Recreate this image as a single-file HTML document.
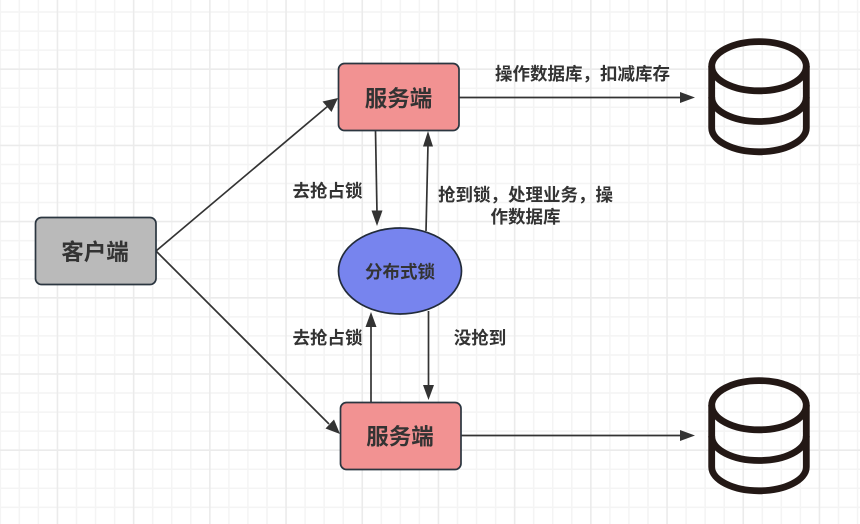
<!DOCTYPE html>
<html><head><meta charset="utf-8">
<style>
html,body{margin:0;padding:0;background:#fff;width:860px;height:524px;overflow:hidden}
svg{display:block;position:absolute;left:0;top:0;filter:blur(.3px)}
text{font-family:"Liberation Sans","Noto Sans CJK SC",sans-serif;font-weight:700;fill:#333;text-anchor:middle}
</style></head><body>
<svg width="860" height="524" viewBox="0 0 860 524" xmlns="http://www.w3.org/2000/svg">
<defs>
<g id="db" fill="none" stroke="#231815" stroke-width="6.8">
<ellipse cx="759" cy="66.2" rx="47.3" ry="24.6"/>
<path d="M711.7 66V128C711.7 141 733 151.8 759 151.8S806.3 141 806.3 128V66"/>
<path d="M711.7 97C711.7 111 733 121.5 759 121.5S806.3 111 806.3 97"/>
</g>
</defs>
<rect width="860" height="524" fill="#fff"/>
<path fill="none" stroke="#f4f4f4" stroke-width="1.5" d="M.3 0V524M19.35 0V524M38.4 0V524M76.5 0V524M95.55 0V524M114.6 0V524M152.7 0V524M171.75 0V524M190.8 0V524M228.9 0V524M247.95 0V524M267 0V524M305.1 0V524M324.15 0V524M343.2 0V524M381.3 0V524M400.35 0V524M419.4 0V524M457.5 0V524M476.55 0V524M495.6 0V524M533.7 0V524M552.75 0V524M571.8 0V524M609.9 0V524M628.95 0V524M648 0V524M686.1 0V524M705.15 0V524M724.2 0V524M762.3 0V524M781.35 0V524M800.4 0V524M838.5 0V524M857.55 0V524
M0 12.05H860M0 31.1H860M0 50.15H860M0 88.25H860M0 107.3H860M0 126.35H860M0 164.45H860M0 183.5H860M0 202.55H860M0 240.65H860M0 259.7H860M0 278.75H860M0 316.85H860M0 335.9H860M0 354.95H860M0 393.05H860M0 412.1H860M0 431.15H860M0 469.25H860M0 488.3H860M0 507.35H860"/>
<path fill="none" stroke="#ebebeb" stroke-width="1.6" d="M57.45 0V524M133.65 0V524M209.85 0V524M286.05 0V524M362.25 0V524M438.45 0V524M514.65 0V524M590.85 0V524M667.05 0V524M743.25 0V524M819.45 0V524
M0 69.2H860M0 145.4H860M0 221.6H860M0 297.8H860M0 374H860M0 450.2H860"/>

<g stroke="#333" stroke-width="1.7" fill="none">
<path d="M156 251L328 106"/>
<path d="M156 251L329 424"/>
<path d="M459 97.5H682"/>
<path d="M461 435.5H682"/>
<path d="M375.500 131L377 213"/>
<path d="M426 231L428 144"/>
<path d="M371 402V326"/>
<path d="M428.500 311V386"/>
</g>
<g fill="#333">
<path d="M338 98L331.500 112L322.500 101.500Z"/>
<path d="M340 434L325.500 428.500L334 419.500Z"/>
<path d="M695 97.500L680 103V92Z"/>
<path d="M695 435.500L680 441V430Z"/>
<path d="M377 226L371.500 210.500H382.500Z"/>
<path d="M428 131L433 146.500H423Z"/>
<path d="M371 312L376.500 327H365.500Z"/>
<path d="M428.500 400L423 385H434Z"/>
</g>

<rect x="35.500" y="217.500" width="120.500" height="67" rx="6" fill="#bababa" stroke="#2b3640" stroke-width="1.700"/>
<rect x="338.500" y="63.500" width="120.500" height="67" rx="6" fill="#f29292" stroke="#2b3640" stroke-width="1.700"/>
<rect x="340.500" y="402.500" width="120.500" height="67" rx="6" fill="#f29292" stroke="#2b3640" stroke-width="1.700"/>
<ellipse cx="400" cy="271" rx="61.500" ry="43" fill="#7784ee" stroke="#222b3a" stroke-width="1.700"/>

<text x="95" y="260" font-size="22.500">客户端</text>
<text x="398.500" y="106.500" font-size="22.500">服务端</text>
<text x="400" y="444.500" font-size="22.500">服务端</text>
<text x="400" y="278" font-size="17.500">分布式锁</text>
<text x="327.500" y="197" font-size="17.500">去抢占锁</text>
<text x="327.500" y="344" font-size="17.500">去抢占锁</text>
<text x="480" y="344" font-size="17.500">没抢到</text>
<text x="525.500" y="201" font-size="17.500">抢到锁，处理业务，操</text>
<text x="525.500" y="223" font-size="17.500">作数据库</text>
<text x="582.500" y="80" font-size="17.500">操作数据库，扣减库存</text>

<use href="#db"/>
<use href="#db" y="339"/>
</svg>
</body></html>
